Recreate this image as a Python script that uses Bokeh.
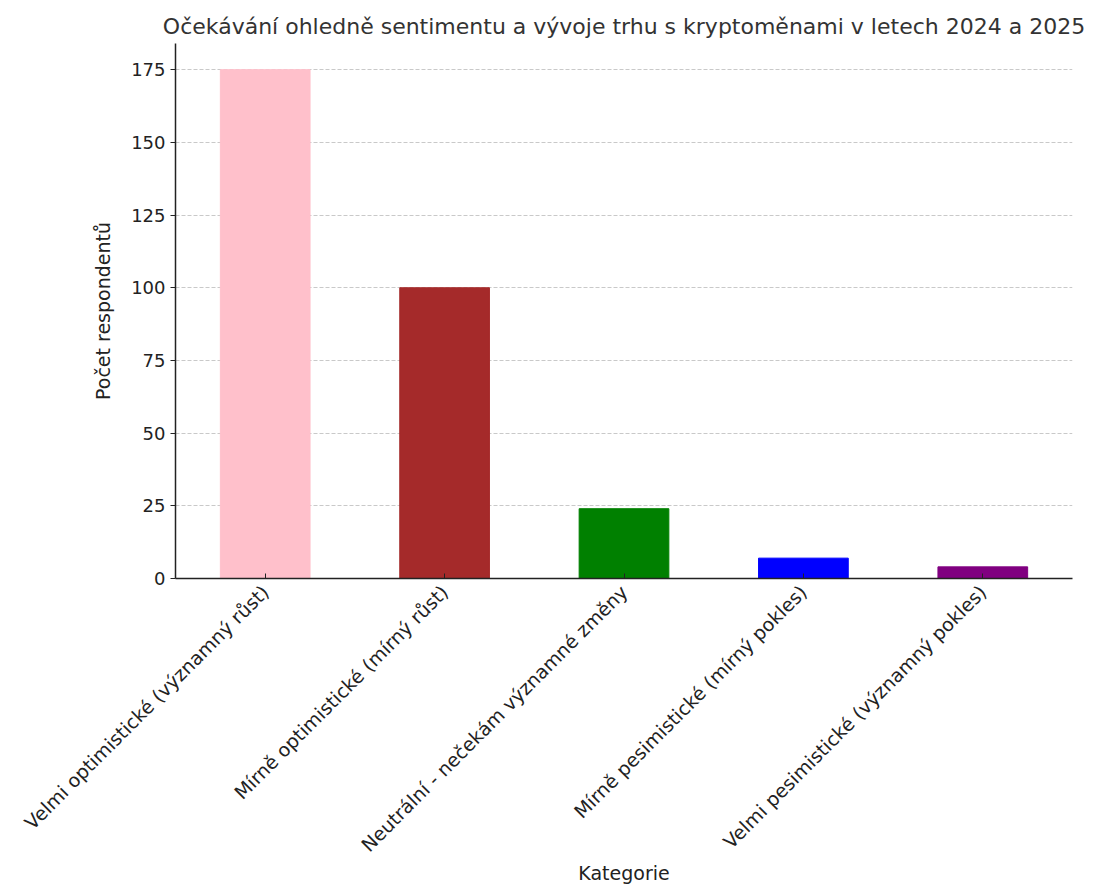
import math
from bokeh.plotting import figure
from bokeh.models import Range1d, FactorRange
from bokeh.embed import file_html
from bokeh.resources import INLINE

categories = [
    "Velmi optimistické (významný růst)",
    "Mírně optimistické (mírný růst)",
    "Neutrální - nečekám významné změny",
    "Mírně pesimistické (mírný pokles)",
    "Velmi pesimistické (významný pokles)",
]
counts = [175, 100, 24, 7, 4]
colors = ["#FFC0CB", "#A52A2A", "#008000", "#0000FF", "#800080"]
y_ticks = [0, 25, 50, 75, 100, 125, 150, 175]

FONT = "DejaVu Sans"

p = figure(
    x_range=FactorRange(*categories, range_padding=0.0),
    y_range=Range1d(0, 184),
    width=1096, height=886,
    output_backend="svg", toolbar_location=None,
    title="Očekávání ohledně sentimentu a vývoje trhu s kryptoměnami v letech 2024 a 2025",
    min_border_left=175, min_border_right=24, min_border_top=43, min_border_bottom=300,
)
p.vbar(x=categories, top=counts, width=0.5, color=colors)

p.title.text_font = FONT
p.title.text_font_size = "22px"
p.title.text_font_style = "normal"
p.title.text_color = "#333333"
p.title.align = "center"
p.title.offset = 10

p.outline_line_color = None
p.xgrid.grid_line_color = None
p.ygrid.grid_line_color = "#bbbbbb"
p.ygrid.grid_line_dash = "4 2"
p.ygrid.grid_line_alpha = 0.8
p.yaxis.ticker = y_ticks

for ax in (p.xaxis, p.yaxis):
    ax.axis_line_color = "#222222"
    ax.axis_line_width = 1.5
    ax.major_tick_line_color = "#222222"
    ax.minor_tick_line_color = None
    ax.major_label_text_font = FONT
    ax.major_label_text_color = "#222222"
    ax.axis_label_text_font = FONT
    ax.axis_label_text_font_size = "19px"
    ax.axis_label_text_font_style = "normal"
    ax.axis_label_text_color = "#222222"

p.yaxis.major_label_text_font_size = "18px"
p.xaxis.major_label_text_font_size = "19px"
p.xaxis.major_label_standoff = 10
p.xaxis.axis_label_standoff = -5
p.xaxis.major_tick_in = 5
p.xaxis.major_tick_out = 0
p.yaxis.major_tick_in = 0
p.yaxis.major_tick_out = 5
p.yaxis.axis_label_standoff = 14
p.xaxis.major_label_orientation = math.pi / 4
p.xaxis.axis_label = "Kategorie"
p.yaxis.axis_label = "Počet respondentů"

open("out.html", "w").write(file_html(p, INLINE))
